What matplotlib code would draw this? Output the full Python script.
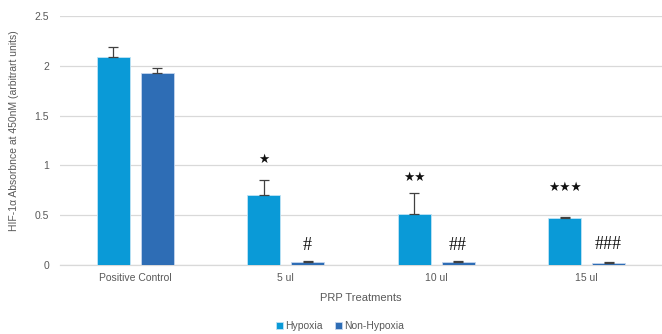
import matplotlib
matplotlib.use("Agg")
import matplotlib.pyplot as plt
import numpy as np

categories = ["Positive Control", "5 ul", "10 ul", "15 ul"]
hypoxia = [2.09, 0.70, 0.51, 0.47]
hypoxia_err = [0.10, 0.15, 0.21, 0.015]
non_hypoxia = [1.93, 0.03, 0.03, 0.02]
non_hypoxia_err = [0.05, 0.015, 0.012, 0.008]
hypoxia_marks = ["", "★", "★★", "★★★"]
non_hypoxia_marks = ["", "#", "##", "###"]
hypoxia_mark_y = [None, 1.06, 0.88, 0.78]
non_hypoxia_mark_y = [None, 0.20, 0.20, 0.21]

plt.rcParams["font.family"] = ["Liberation Sans", "DejaVu Sans"]

fig = plt.figure(figsize=(6.62, 3.34), dpi=100)
ax = fig.add_axes([60 / 662, (334 - 265) / 334, 602 / 662, 249 / 334])

x = np.arange(len(categories))
w = 0.22
off = 0.145
c_hyp = "#0a9ad7"
c_non = "#2e6db5"
err_kw = dict(ecolor="#404040", elinewidth=0.9, capsize=3.5, capthick=0.9)

ax.bar(x - off, hypoxia, w, color=c_hyp, edgecolor="#bfe3f5", linewidth=0.6,
       yerr=[np.zeros(len(x)), hypoxia_err], error_kw=err_kw, label="Hypoxia", zorder=3)
ax.bar(x + off, non_hypoxia, w, color=c_non, edgecolor="#c5d6ee", linewidth=0.6,
       yerr=[np.zeros(len(x)), non_hypoxia_err], error_kw=err_kw, label="Non-Hypoxia", zorder=3)

for i in range(len(x)):
    if hypoxia_marks[i]:
        ax.text(x[i] - off, hypoxia_mark_y[i], hypoxia_marks[i], ha="center", va="center",
                fontsize=9, color="#111111", family=["DejaVu Sans"])
    if non_hypoxia_marks[i]:
        ax.text(x[i] + off, non_hypoxia_mark_y[i], non_hypoxia_marks[i], ha="center", va="center",
                fontsize=13, color="#111111", family=["Liberation Serif"])

ax.set_xlim(-0.5, 3.5)
ax.set_ylim(0, 2.5)
ax.set_yticks([0, 0.5, 1, 1.5, 2, 2.5])
ax.set_yticklabels(["0", "0.5", "1", "1.5", "2", "2.5"])
ax.set_xticks(x)
ax.set_xticklabels(categories)
ax.tick_params(axis="both", length=0, labelsize=7.5, labelcolor="#595959", pad=6)
ax.tick_params(axis="y", pad=8)
ax.grid(axis="y", color="#d9d9d9", linewidth=0.9, zorder=0)
for s in ["top", "right", "left"]:
    ax.spines[s].set_visible(False)
ax.spines["bottom"].set_color("#d9d9d9")
ax.spines["bottom"].set_linewidth(0.9)

ax.set_xlabel("PRP Treatments", fontsize=8, color="#595959", labelpad=7)
ax.set_ylabel("HIF-1α Absorbnce at 450nM (arbitrart units)", fontsize=7.5, color="#595959")
ax.yaxis.set_label_coords(-0.068, 0.54)

fig.legend(loc="lower center", bbox_to_anchor=(340 / 662, -0.02), ncol=2, frameon=False,
           fontsize=7.5, labelcolor="#595959", handlelength=0.7, handleheight=0.7,
           handletextpad=0.2, columnspacing=1.2)

fig.savefig("out.png", dpi=100)
